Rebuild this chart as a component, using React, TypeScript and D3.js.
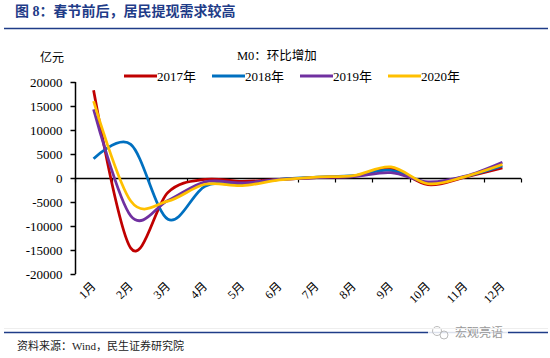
import React, { useRef, useEffect } from "react"
import * as d3 from "d3"

const months = ["1月", "2月", "3月", "4月", "5月", "6月", "7月", "8月", "9月", "10月", "11月", "12月"]
const yTicks = [-20000, -15000, -10000, -5000, 0, 5000, 10000, 15000, 20000]
const seriesNames = ["2017年", "2018年", "2019年", "2020年"]
const v2017 = [18300, -14600, -3000, -300, -700, -300, 100, 400, 2000, -1400, 200, 2100]
const v2018 = [4000, 7000, -8600, -1700, -1400, -300, 200, 500, 1600, -1000, 300, 2500]
const v2019 = [14300, -7900, -4700, -800, -1000, -300, 100, 300, 1100, -800, 400, 3300]
const v2020 = [16000, -4800, -4800, -1300, -1600, -400, 200, 500, 2300, -1200, 300, 2800]
const colors = ["#C00000", "#0070C0", "#7030A0", "#FFC000"]

const serif = "'Liberation Serif', 'Times New Roman', 'Noto Sans CJK SC', serif"

const App: React.FunctionComponent = () => {
	const svgRef = useRef<any>()

	useEffect(() => {
		const svg = d3.select(svgRef.current)
		svg.selectAll("*").remove()
		const allSeries = [v2017, v2018, v2019, v2020]

		// title + rules
		svg.append("text")
			.attr("x", 15).attr("y", 16)
			.attr("fill", "#1F3C88")
			.attr("font-family", serif)
			.attr("font-weight", "bold")
			.attr("font-size", 14)
			.text("图 8：春节前后，居民提现需求较高")
		svg.append("line")
			.attr("x1", 4).attr("x2", 548).attr("y1", 28.5).attr("y2", 28.5)
			.attr("stroke", "#1F3C88").attr("stroke-width", 1.5)
		svg.append("line")
			.attr("x1", 4).attr("x2", 548).attr("y1", 332.5).attr("y2", 332.5)
			.attr("stroke", "#1F3C88").attr("stroke-width", 1.5)
		svg.append("text")
			.attr("x", 17).attr("y", 350)
			.attr("font-family", serif)
			.attr("font-size", 11)
			.attr("fill", "#222")
			.text("资料来源：Wind，民生证券研究院")

		// watermark
		const wm = svg.append("g")
		wm.append("rect").attr("x", 428).attr("y", 324).attr("width", 80).attr("height", 18).attr("fill", "#fff").attr("opacity", 0.85)
		wm.append("circle").attr("cx", 437).attr("cy", 331).attr("r", 4.5).attr("fill", "none").attr("stroke", "#bbb")
		wm.append("circle").attr("cx", 444).attr("cy", 335).attr("r", 4).attr("fill", "none").attr("stroke", "#bbb")
		wm.append("text")
			.attr("x", 455).attr("y", 337)
			.attr("font-family", "'Noto Sans CJK SC', sans-serif")
			.attr("font-size", 12)
			.attr("fill", "#999")
			.text("宏观亮语")

		// faint chart frame
		svg.append("line")
			.attr("x1", 4).attr("x2", 548).attr("y1", 328.5).attr("y2", 328.5)
			.attr("stroke", "#eeeeee")

		const xScale = d3.scaleBand().domain(months).range([75, 521])
		const yScale = d3.scaleLinear().domain([-20000, 20000]).range([274, 82])
		const cx = (i: number) => (xScale(months[i]) as number) + xScale.bandwidth() / 2

		svg.append("text")
			.attr("x", 40).attr("y", 62)
			.attr("font-family", serif).attr("font-size", 12)
			.text("亿元")
		svg.append("text")
			.attr("x", 237).attr("y", 60)
			.attr("font-family", serif).attr("font-size", 12.5)
			.text("M0：环比增加")

		// legend
		const legendX = [124, 212, 300, 388]
		seriesNames.forEach((name, i) => {
			svg.append("line")
				.attr("x1", legendX[i]).attr("x2", legendX[i] + 33)
				.attr("y1", 76).attr("y2", 76)
				.attr("stroke", colors[i]).attr("stroke-width", 3)
			svg.append("text")
				.attr("x", legendX[i] + 33).attr("y", 81)
				.attr("font-family", serif).attr("font-size", 13)
				.text(name)
		})

		// y axis
		const yAxis = d3.axisLeft(yScale).tickValues(yTicks).tickSize(5).tickPadding(8).tickFormat((d) => String(d))
		const gy = svg.append("g").attr("transform", "translate(75.5,0)").call(yAxis)
		gy.selectAll("text").attr("font-family", serif).attr("font-size", 13).attr("fill", "#000")
		gy.selectAll("line, path").attr("stroke", "#000").attr("stroke-width", 1.5)
		gy.select(".domain").attr("d", `M0,${yScale(-20000)}V${yScale(20000)}`)

		// x axis on zero line
		const y0 = Math.round(yScale(0)) + 0.5
		const gx = svg.append("g")
		gx.append("line").attr("x1", 75).attr("x2", 521).attr("y1", y0).attr("y2", y0)
			.attr("stroke", "#000").attr("stroke-width", 1.5)
		d3.range(months.length + 1).forEach((i) => {
			const tx = Math.round(75 + i * xScale.step()) + 0.5
			gx.append("line").attr("x1", tx).attr("x2", tx).attr("y1", y0).attr("y2", y0 + 4)
				.attr("stroke", "#000").attr("stroke-width", 1.2)
		})
		months.forEach((m, i) => {
			svg.append("text")
				.attr("transform", `translate(${cx(i) + 3},${287}) rotate(-45)`)
				.attr("text-anchor", "end")
				.attr("font-family", serif).attr("font-size", 12)
				.text(m)
		})

		// lines
		const line = d3.line<number>()
			.x((d, i) => cx(i))
			.y((d) => yScale(d))
			.curve(d3.curveCardinal.tension(0))
		allSeries.forEach((s, i) => {
			svg.append("path")
				.attr("d", line(s) as string)
				.attr("fill", "none")
				.attr("stroke", colors[i])
				.attr("stroke-width", 2.75)
		})
	}, [])

	return (
		<div style={{ position: "absolute", left: 0, top: 0 }}>
			<svg ref={svgRef} width={550} height={358} style={{ display: "block", background: "#fff" }}></svg>
		</div>
	)
}

export default App
